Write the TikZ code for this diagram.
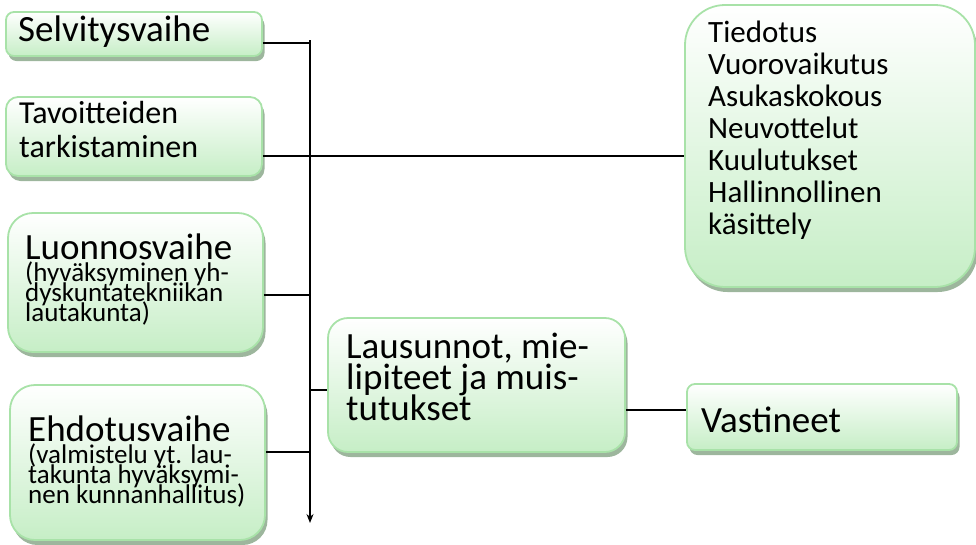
\documentclass[tikz,border=0pt]{standalone}
\usepackage{fontspec}
\setmainfont{Carlito}
\usetikzlibrary{shadows,arrows.meta}
\definecolor{boxborder}{HTML}{A8E2A8}
\definecolor{boxfill}{HTML}{C6EEC6}
\definecolor{shadowc}{HTML}{9DB69D}
\newcommand\myfnt[2]{\fontsize{#1}{#2}\selectfont\lineskiplimit=-100pt\relax}
\tikzset{
  box/.style={draw=boxborder, line width=1.8pt, top color=white, bottom color=boxfill,
    drop shadow={shadow xshift=2.5pt, shadow yshift=-5pt, fill=shadowc, opacity=1},
    inner sep=0pt},
  txt/.style={anchor=base west, inner sep=0pt, align=left, text=black},
  conn/.style={draw=black, line width=1.3pt},
  big/.style={font=\myfnt{37}{31}},
  mid/.style={font=\myfnt{32}{34}},
  lst/.style={font=\myfnt{31}{32}},
  small/.style={font=\myfnt{27}{20}}
}
\begin{document}
\begin{tikzpicture}[x=1pt,y=-1pt]
\useasboundingbox (0,0) rectangle (976,544);
% boxes
\node[box, rounded corners=8pt,  minimum width=256pt, minimum height=44pt]  (S)  at (134,34) {};
\node[box, rounded corners=12pt, minimum width=256pt, minimum height=79pt]  (T)  at (134,136.5) {};
\node[box, rounded corners=25pt, minimum width=255pt, minimum height=139pt] (L)  at (135.5,282.5) {};
\node[box, rounded corners=25pt, minimum width=255pt, minimum height=155pt] (E)  at (137.5,462.5) {};
\node[box, rounded corners=20pt, minimum width=297pt, minimum height=134pt] (La) at (476.5,385) {};
\node[box, rounded corners=8pt,  minimum width=270pt, minimum height=66pt]  (V)  at (822,417) {};
\node[box, rounded corners=40pt, minimum width=290pt, minimum height=282pt] (Ti) at (830,146) {};
% texts (base anchor = baseline of last line)
\node[txt, big] (St) at (18,41) {Selvitysvaihe};
\node[txt, mid] (Tt) at (19,157) {Tavoitteiden\\tarkistaminen};
\node[txt, big] (Lt) at (25,259) {Luonnosvaihe};
\node[txt, small] (Ls) at (25,321) {(hyväksyminen yh-\\dyskuntatekniikan\\lautakunta)};
\node[txt, big] (Et) at (28,441) {Ehdotusvaihe};
\node[txt, small] (Es) at (28,503) {(valmistelu yt. lau-\\takunta hyväksymi-\\nen kunnanhallitus)};
\node[txt, big] (Lat) at (346,420) {Lausunnot, mie-\\lipiteet ja muis-\\tutukset};
\node[txt, big] (Vt) at (701,432) {Vastineet};
\node[txt, lst] (Tit) at (708,234) {Tiedotus\\Vuorovaikutus\\Asukaskokous\\Neuvottelut\\Kuulutukset\\Hallinnollinen\\käsittely};
% connectors
\coordinate (sp1) at (310,40);
\coordinate (sp2) at (310,523);
\draw[conn, -{Stealth[length=9pt,width=7pt]}] (sp1) -- (sp2);
\coordinate (s1) at ([yshift=-9pt]S.east);
\draw[conn] (s1) -- (s1 -| sp1);
\coordinate (t1) at ([yshift=-19.5pt]T.east);
\draw[conn] (t1) -- (t1 -| Ti.west);
\coordinate (l1) at ([yshift=-12.5pt]L.east);
\draw[conn] (l1) -- (l1 -| sp1);
\coordinate (e1) at ([yshift=10.5pt]E.east);
\draw[conn] (e1) -- (e1 -| sp1);
\coordinate (la1) at ([yshift=-5pt]La.west);
\draw[conn] (la1 -| sp1) -- (la1);
\coordinate (lv) at ([yshift=-25pt]La.east);
\draw[conn] (lv) -- (lv -| V.west);
\end{tikzpicture}
\end{document}
